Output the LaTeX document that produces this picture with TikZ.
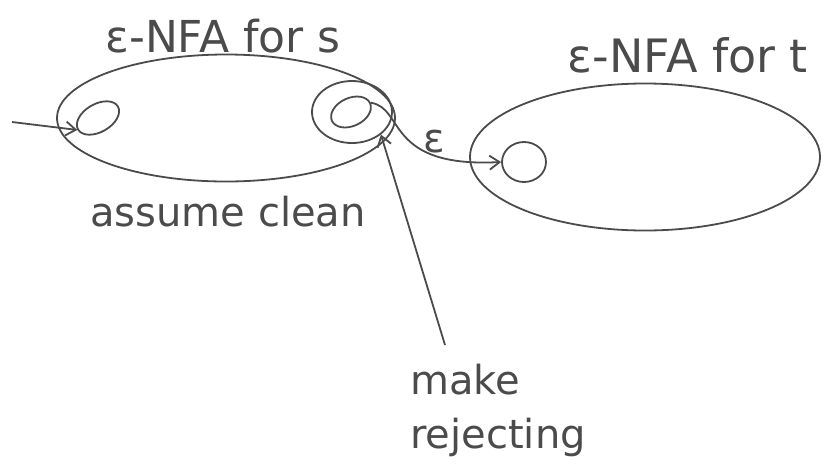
\documentclass[tikz,border=0pt]{standalone}
\usepackage{fontspec}
\setmainfont{DejaVu Sans}
\usetikzlibrary{arrows.meta,shapes.geometric}
\definecolor{ink}{RGB}{75,75,75}
\tikzset{
  pen/.style={draw=ink, line width=1.8pt},
  blob/.style={pen, ellipse},
  st/.style={pen, ellipse, inner sep=0pt},
  lab/.style={text=ink, inner sep=0pt, font=\fontsize{40}{46}\selectfont},
  arr/.style={pen, -{Straight Barb[length=10pt,width=14pt]}},
}
\begin{document}
\begin{tikzpicture}[x=1pt,y=-1pt]
\useasboundingbox (0,0) rectangle (840,467);
% enclosures
\node[blob, minimum width=338, minimum height=127] (S) at (226,118) {};
\node[blob, minimum width=350, minimum height=147] (T) at (645,157) {};
% states
\node[st, minimum width=46, minimum height=28, rotate=30] (s0) at (98,118) {};
\node[st, minimum width=42, minimum height=28, rotate=25] (sf) at (351,112) {};
\node[st, minimum width=80, minimum height=62] (sfo) at (352,112) {};
\node[st, minimum width=44, minimum height=40] (t0) at (524,162) {};
\coordinate (in) at (12,122);
% connectors
\draw[arr] (in) -- (s0.west);
\draw[arr] (sf.east) .. controls (405,108) and (385,168) .. (t0.west);
\node[lab] (eps) at (434,142) {ε};
% labels
\node[lab, font=\fontsize{44}{50}\selectfont] (ls) at (223,36) {ε-NFA for s};
\node[lab, font=\fontsize{46}{50}\selectfont] (lt) at (688,55) {ε-NFA for t};
\node[lab] (lc) at (228,212) {assume clean};
\node[lab, align=left, font=\fontsize{40}{54}\selectfont] (lr) at (498,410) {make\\rejecting};
\coordinate (rt) at (445,345);
\draw[arr] (rt) -- (sfo.south east);
\end{tikzpicture}
\end{document}
